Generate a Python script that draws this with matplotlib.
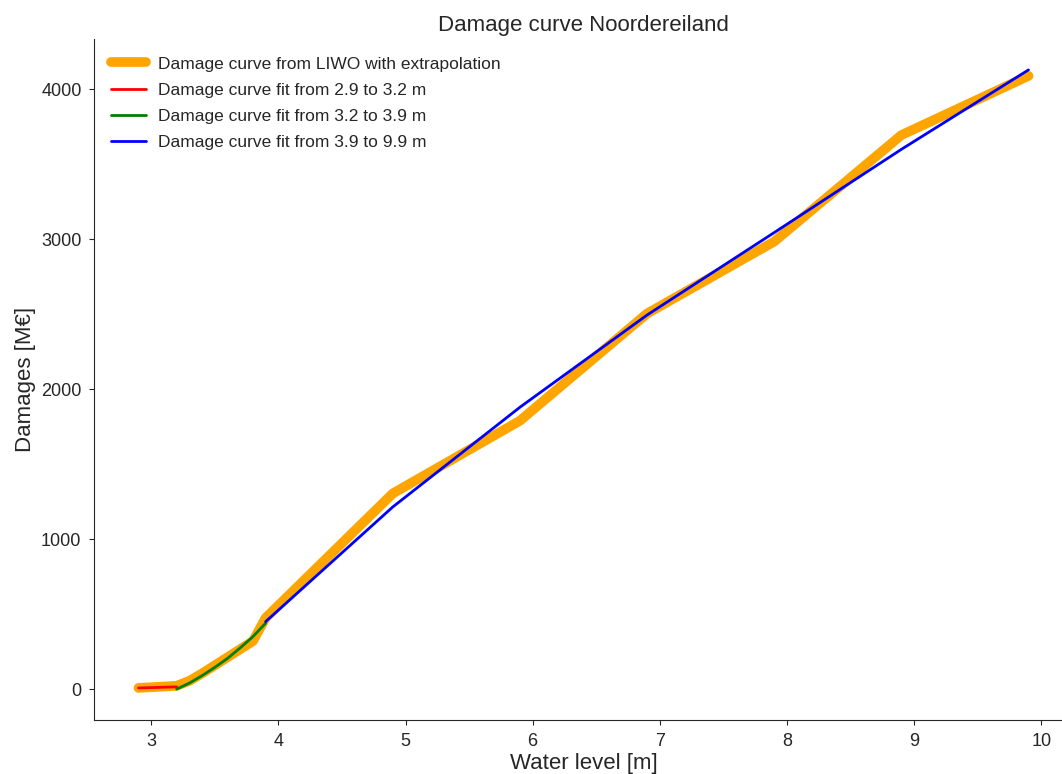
import matplotlib
matplotlib.use("Agg")
import matplotlib.pyplot as plt
import seaborn as sns

# LIWO damage curve (with extrapolation)
liwo_level = [2.9, 3.2, 3.3, 3.4, 3.8, 3.9, 4.9, 5.9, 6.9, 7.9, 8.9, 9.9]
liwo_damage = [8, 22, 55, 105, 320, 475, 1305, 1790, 2505, 2985, 3695, 4090]

# Fit 1: 2.9 - 3.2 m
fit1_level = [2.9, 3.0, 3.1, 3.2]
fit1_damage = [8, 10, 13, 15]

# Fit 2: 3.2 - 3.9 m
fit2_level = [3.2, 3.3, 3.4, 3.5, 3.6, 3.7, 3.8, 3.9]
fit2_damage = [0, 40, 90, 145, 205, 275, 350, 440]

# Fit 3: 3.9 - 9.9 m
fit3_level = [3.9, 4.9, 5.9, 6.9, 7.9, 8.9, 9.9]
fit3_damage = [450, 1215, 1880, 2495, 3045, 3600, 4130]

labels = ["Damage curve from LIWO with extrapolation",
          "Damage curve fit from 2.9 to 3.2 m",
          "Damage curve fit from 3.2 to 3.9 m",
          "Damage curve fit from 3.9 to 9.9 m"]

sns.set_style("ticks")
plt.rcParams['font.family'] = ['Liberation Sans', 'DejaVu Sans']

fig = plt.figure(figsize=(10.62, 7.74), dpi=100)
ax = fig.add_axes([94/1062, 54/774, (1073-94)/1062, (720-39)/774])

ax.plot(liwo_level, liwo_damage, color='orange', lw=7, solid_capstyle='round',
        solid_joinstyle='round', label=labels[0])
ax.plot(fit1_level, fit1_damage, color='red', lw=2, label=labels[1])
ax.plot(fit2_level, fit2_damage, color='green', lw=2, label=labels[2])
ax.plot(fit3_level, fit3_damage, color='blue', lw=2, label=labels[3])

ax.set_xlim(2.55, 10.25)
ax.set_ylim(-206, 4336)
ax.set_xticks([3, 4, 5, 6, 7, 8, 9, 10])
ax.set_yticks([0, 1000, 2000, 3000, 4000])
ax.tick_params(labelsize=13, pad=5.5)
ax.set_xlabel("Water level [m]", fontsize=16, labelpad=2.5)
ax.set_ylabel("Damages [M€]", fontsize=16)
ax.set_title("Damage curve Noordereiland", fontsize=16)
ax.legend(loc='upper left', frameon=False, fontsize=12.5, labelspacing=0.63,
          borderaxespad=0.6, handletextpad=0.7)
sns.despine(ax=ax)

fig.savefig("out.png", dpi=100)
